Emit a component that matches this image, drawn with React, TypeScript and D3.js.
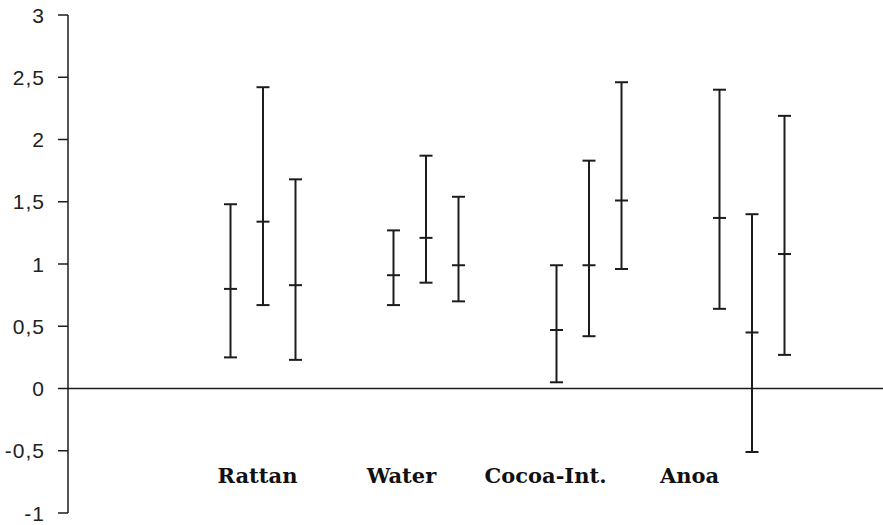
import React from "react";
import * as d3 from "d3";

const categories = ["Rattan", "Water", "Cocoa-Int.", "Anoa"];
const seriesIds = ["s1", "s2", "s3"];

const mean1 = [0.8, 0.91, 0.47, 1.37];
const low1 = [0.25, 0.67, 0.05, 0.64];
const high1 = [1.48, 1.27, 0.99, 2.4];

const mean2 = [1.34, 1.21, 0.99, 0.45];
const low2 = [0.67, 0.85, 0.42, -0.51];
const high2 = [2.42, 1.87, 1.83, 1.4];

const mean3 = [0.83, 0.99, 1.51, 1.08];
const low3 = [0.23, 0.7, 0.96, 0.27];
const high3 = [1.68, 1.54, 2.46, 2.19];

const yTicks = [-1, -0.5, 0, 0.5, 1, 1.5, 2, 2.5, 3];

const W = 883;
const H = 525;
const COLOR = "#1c1c1c";

export default function App() {
  const y = d3.scaleLinear().domain([-1, 3]).range([513, 15]);
  const x = d3.scaleBand().domain(categories).range([181.5, 833.5]);
  const xs = d3.scaleBand().domain(seriesIds).range([-48.75, 48.75]);
  const xl = d3.scalePoint().domain(categories).range([257.5, 689.5]);
  const axisX = 68;
  const fmt = (v: number) => String(v).replace(".", ",");

  const series = [
    { id: "s1", mean: mean1, low: low1, high: high1 },
    { id: "s2", mean: mean2, low: low2, high: high2 },
    { id: "s3", mean: mean3, low: low3, high: high3 },
  ];
  const cap = 6.5;

  return (
    <svg
      width={W}
      height={H}
      style={{ position: "absolute", left: 0, top: 0, background: "#fff", display: "block" }}
    >
      <rect x={0} y={0} width={W} height={H} fill="#fff" />
      {/* zero line */}
      <line x1={axisX} x2={W} y1={y(0)} y2={y(0)} stroke={COLOR} strokeWidth={1.5} />
      {/* y axis */}
      <line x1={axisX} x2={axisX} y1={y(3)} y2={y(-1)} stroke={COLOR} strokeWidth={1.5} />
      {yTicks.map((t) => (
        <g key={t}>
          <line x1={axisX - 10} x2={axisX} y1={y(t)} y2={y(t)} stroke={COLOR} strokeWidth={1.5} />
          <text
            x={45}
            y={y(t)}
            dy="0.36em"
            textAnchor="end"
            fontFamily="'Liberation Sans', Arial, sans-serif"
            fontSize={21}
            letterSpacing={1}
            fill="#222"
          >
            {fmt(t)}
          </text>
        </g>
      ))}
      {/* error bars */}
      {series.map((s) =>
        categories.map((c, i) => {
          const cx = (x(c) as number) + x.bandwidth() / 2 + ((xs(s.id) as number) + xs.bandwidth() / 2);
          return (
            <g key={s.id + c} stroke={COLOR} strokeWidth={2}>
              <line x1={cx} x2={cx} y1={y(s.high[i])} y2={y(s.low[i])} />
              <line x1={cx - cap} x2={cx + cap} y1={y(s.high[i])} y2={y(s.high[i])} />
              <line x1={cx - cap} x2={cx + cap} y1={y(s.low[i])} y2={y(s.low[i])} />
              <line x1={cx - cap} x2={cx + cap} y1={y(s.mean[i])} y2={y(s.mean[i])} />
            </g>
          );
        })
      )}
      {/* category labels */}
      {categories.map((c) => (
        <text
          key={c}
          x={xl(c) as number}
          y={483}
          textAnchor="middle"
          fontFamily="'DejaVu Serif', serif"
          fontWeight="bold"
          fontSize={21}
          fill="#111"
        >
          {c}
        </text>
      ))}
    </svg>
  );
}
